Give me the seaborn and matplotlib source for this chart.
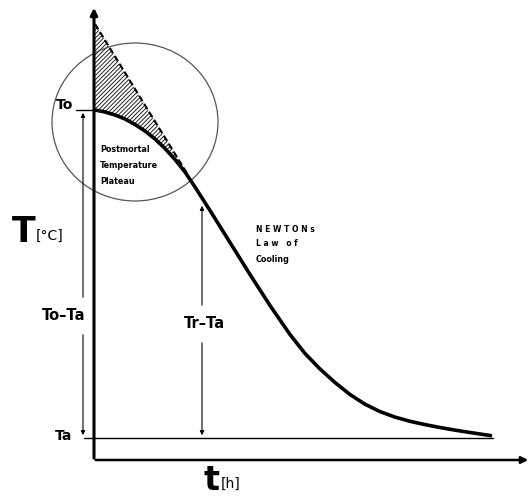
import numpy as np
import pandas as pd
import matplotlib.pyplot as plt
import seaborn as sns
from matplotlib.patches import Ellipse

# schematic in picture units (x right, y down)
curve_x = [95, 105, 115, 125, 135, 145, 155, 165, 175, 185, 195, 210, 230, 250, 270,
           290, 305, 320, 335, 350, 365, 380, 395, 410, 425, 440, 455, 470, 492]
curve_y = [110, 112, 115, 119, 124.5, 131, 139, 148.5, 159.5, 172, 187, 210.5, 242.5, 274.5, 305.5,
           334.5, 353.5, 369, 382.5, 394.5, 404.2, 411.6, 417.1, 421.3, 424.6, 427.5, 430.1, 432.5, 435.8]
tangent_x = [95, 188]
tangent_y = [24, 175]
y_to = 110
y_ta = 438
y_axis_x = 94
x_axis_y = 460

sns.set_style("white")
plt.rcParams['font.family'] = ['DejaVu Sans']
plt.rcParams['text.color'] = 'black'
plt.rcParams['hatch.linewidth'] = 0.7

fig = plt.figure(figsize=(5.32, 4.97), dpi=100)
ax = fig.add_axes([0, 0, 1, 1])
ax.set_xlim(0, 532)
ax.set_ylim(497, 0)
ax.axis("off")

df = pd.DataFrame({"t": curve_x, "T": curve_y})
sns.lineplot(data=df, x="t", y="T", ax=ax, color="black", linewidth=2.6, sort=False,
             solid_joinstyle="round", solid_capstyle="butt")

# tangent (dashed) and hatched plateau area
ax.plot(tangent_x, tangent_y, color="black", linewidth=1.5, linestyle=(0, (3, 1.5)))
xs = np.linspace(tangent_x[0], tangent_x[1], 80)
top = np.interp(xs, tangent_x, tangent_y)
bot = np.interp(xs, curve_x, curve_y)
ax.fill_between(xs, top, bot, facecolor="none", edgecolor="#222222", hatch="////////", linewidth=0)

# circle around plateau
ax.add_patch(Ellipse((135, 122), 166, 158, fill=False, edgecolor="#555555", linewidth=0.9))

# axes arrows
ax.annotate("", xy=(y_axis_x, 5), xytext=(y_axis_x, x_axis_y + 1),
            arrowprops=dict(arrowstyle="-|>", color="black", lw=2.2, mutation_scale=10))
ax.annotate("", xy=(531, x_axis_y), xytext=(y_axis_x - 1, x_axis_y),
            arrowprops=dict(arrowstyle="-|>", color="black", lw=1.8, mutation_scale=10))

# ambient line
ax.plot([84, 493], [y_ta, y_ta], color="black", linewidth=1.0)
ax.plot([76, 95], [y_to, y_to], color="black", linewidth=1.0)

# measure arrows
arr = dict(arrowstyle="-|>", color="black", lw=0.8, mutation_scale=6)
ax.annotate("", xy=(83, y_to), xytext=(83, 300), arrowprops=arr)
ax.annotate("", xy=(83, y_ta), xytext=(83, 332), arrowprops=arr)
ax.annotate("", xy=(202, 203), xytext=(202, 308), arrowprops=arr)
ax.annotate("", xy=(202, y_ta), xytext=(202, 340), arrowprops=arr)

# labels
ax.text(56, 105, "To", fontsize=10, fontweight="bold", va="center", ha="left")
ax.text(55, 436, "Ta", fontsize=10, fontweight="bold", va="center", ha="left")
ax.text(64, 315, "To\u2013Ta", fontsize=10.5, fontweight="bold", va="center", ha="center")
ax.text(204, 323, "Tr\u2013Ta", fontsize=10.5, fontweight="bold", va="center", ha="center")

ax.text(100, 150, "Postmortal", fontsize=5.8, fontweight="bold", va="center")
ax.text(100, 166, "Temperature", fontsize=5.8, fontweight="bold", va="center")
ax.text(100, 181, "Plateau", fontsize=5.8, fontweight="bold", va="center")

ax.text(256, 229, "N E W T O N s", fontsize=5.5, fontweight="bold", va="center")
ax.text(256, 244, "L a w   o f", fontsize=5.5, fontweight="bold", va="center")
ax.text(256, 259, "Cooling", fontsize=5.8, fontweight="bold", va="center")

ax.text(12, 242, "T", fontsize=25, fontweight="heavy", va="baseline", ha="left")
ax.text(36, 240, "[\u00b0C]", fontsize=10, va="baseline", ha="left")
ax.text(204, 490, "t", fontsize=24, fontweight="heavy", va="baseline", ha="left")
ax.text(221, 488, "[h]", fontsize=10, va="baseline", ha="left")

fig.savefig("out.png", dpi=100)
